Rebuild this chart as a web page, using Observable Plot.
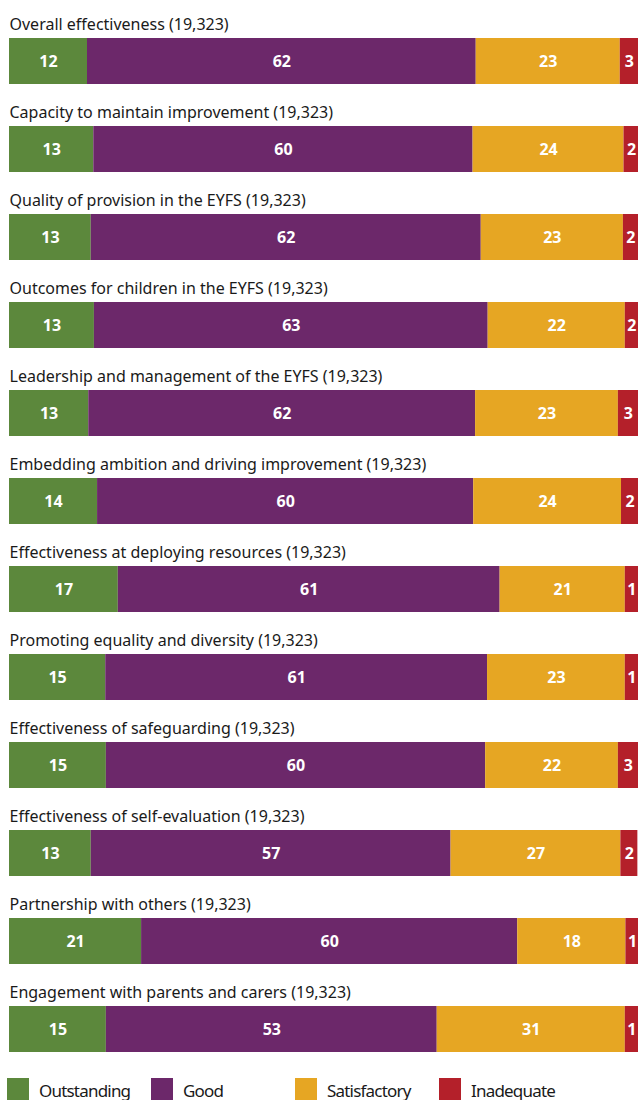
<!DOCTYPE html>
<html>
<head>
<meta charset="utf-8">
<script src="https://cdn.jsdelivr.net/npm/d3@7"></script>
<script src="https://cdn.jsdelivr.net/npm/@observablehq/plot@0.6"></script>
<style>
  body { margin: 0; background: #fff; font-family: "Noto Sans", sans-serif; }
  #chart svg { display: block; }
  #legend { display: flex; margin-top: 4px; height: 30px; }
  .item { width: 144px; display: flex; align-items: flex-start; font-size: 17px; letter-spacing: -0.8px; color: #1a1a1a; }
  .item:first-child { margin-left: 7px; }
  .sw { width: 22px; height: 22px; margin-right: 10px; flex: none; }
  .item span { line-height: 26px; margin-top: 0px; }
</style>
</head>
<body>
<div id="chart"></div>
<div id="legend"></div>
<script>
const rows = [
  "Overall effectiveness (19,323)",
  "Capacity to maintain improvement (19,323)",
  "Quality of provision in the EYFS (19,323)",
  "Outcomes for children in the EYFS (19,323)",
  "Leadership and management of the EYFS (19,323)",
  "Embedding ambition and driving improvement (19,323)",
  "Effectiveness at deploying resources (19,323)",
  "Promoting equality and diversity (19,323)",
  "Effectiveness of safeguarding (19,323)",
  "Effectiveness of self-evaluation (19,323)",
  "Partnership with others (19,323)",
  "Engagement with parents and carers (19,323)"
];
const categories = ["Outstanding", "Good", "Satisfactory", "Inadequate"];
const colors = ["#5c883c", "#6c286a", "#e6a623", "#b4202a"];

// segment widths (percent)
const outstanding  = [12.4, 13.4, 13.0, 13.5, 12.6, 14.0, 17.3, 15.3, 15.4, 13.0, 21.0, 15.4];
const good         = [61.8, 60.3, 62.0, 62.6, 61.5, 59.8, 60.7, 60.7, 60.3, 57.2, 59.8, 52.6];
const satisfactory = [22.9, 24.0, 22.6, 21.8, 22.7, 23.5, 19.9, 21.9, 21.1, 27.0, 17.2, 29.9];
const inadequate   = [2.9, 2.4, 2.4, 2.1, 3.2, 2.7, 2.1, 2.1, 3.2, 2.7, 2.1, 2.1];

// printed labels
const outstandingLabels  = [12, 13, 13, 13, 13, 14, 17, 15, 15, 13, 21, 15];
const goodLabels         = [62, 60, 62, 63, 62, 60, 61, 61, 60, 57, 60, 53];
const satisfactoryLabels = [23, 24, 23, 22, 23, 24, 21, 23, 22, 27, 18, 31];
const inadequateLabels   = [3, 2, 2, 2, 3, 2, 1, 1, 3, 2, 1, 1];

const series = [outstanding, good, satisfactory, inadequate];
const seriesLabels = [outstandingLabels, goodLabels, satisfactoryLabels, inadequateLabels];

const table = [];
rows.forEach((r, i) => {
  categories.forEach((c, j) => {
    table.push({row: r, cat: c, value: series[j][i], label: String(seriesLabels[j][i])});
  });
});

const font = "Noto Sans, sans-serif";
const chart = Plot.plot({
  width: 638,
  height: 1074,
  marginLeft: 9,
  marginRight: 0,
  marginTop: 17,
  marginBottom: 0,
  style: {fontFamily: font, background: "#fff"},
  x: {domain: [0, 100], axis: null},
  y: {domain: rows, axis: null, paddingInner: 0.477, paddingOuter: 0.2385},
  color: {domain: categories, range: colors},
  marks: [
    Plot.barX(table, Plot.stackX({y: "row", x: "value", fill: "cat", order: categories})),
    Plot.text(table, Plot.stackX({y: "row", x: "value", z: "cat", order: categories, text: "label",
      fill: "white", fontWeight: "bold", fontSize: 16})),
    Plot.text(rows, {y: d => d, x: () => 0, text: d => d, textAnchor: "start", dy: -37,
      fill: "#1a1a1a", fontSize: 16})
  ]
});
document.getElementById("chart").appendChild(chart);

const legend = document.getElementById("legend");
categories.forEach((c, j) => {
  const it = document.createElement("div");
  it.className = "item";
  const sw = document.createElement("div");
  sw.className = "sw";
  sw.style.background = colors[j];
  const t = document.createElement("span");
  t.textContent = c;
  it.appendChild(sw); it.appendChild(t);
  legend.appendChild(it);
});
</script>
</body>
</html>
